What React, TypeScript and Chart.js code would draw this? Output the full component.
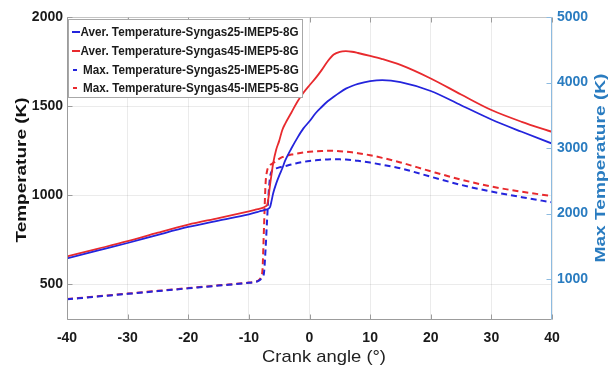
import React, { useEffect, useRef } from "react";
import { Chart, registerables } from "chart.js";

Chart.register(...registerables);

// ---------- data ----------
const angles = [
  -40, -35, -30, -25, -20, -15, -10, -9, -8.5, -8, -7.75, -7.5, -7.25, -7, -6.75, -6.5, -6.25, -6, -5.5, -5,
  -4.5, -4, -3, -2, -1, 0, 1, 2, 3, 4, 5, 6, 7, 8, 10, 12, 15, 20, 25, 30, 35, 40,
];

// Average temperature (left axis, K)
const averSyngas25 = [
  646, 689, 732, 778, 822, 858, 893, 902, 907, 912, 914, 917, 919, 921, 925, 934, 970, 1010, 1065, 1110,
  1150, 1195, 1262, 1322, 1375, 1415, 1460, 1495, 1527, 1553, 1577, 1598, 1613, 1625, 1640, 1646, 1635, 1585, 1505, 1425, 1356, 1290,
];
const averSyngas45 = [
  657, 699, 742, 790, 835, 872, 910, 918, 922, 926, 929, 933, 938, 945, 990, 1060, 1120, 1178, 1255, 1305,
  1365, 1402, 1463, 1525, 1575, 1617, 1657, 1702, 1752, 1790, 1805, 1808, 1805, 1798, 1782, 1764, 1731, 1655, 1565, 1478, 1412, 1356,
];

// Maximum temperature (right axis, K)
const maxSyngas25 = [
  690, 732, 774, 816, 858, 900, 943, 955, 968, 1000, 1030, 1100, 1450, 1900, 2300, 2560, 2640, 2672, 2690, 2705,
  2715, 2725, 2750, 2770, 2788, 2802, 2812, 2820, 2826, 2828, 2827, 2823, 2816, 2806, 2778, 2745, 2690, 2562, 2437, 2335, 2250, 2171,
];
const maxSyngas45 = [
  694, 736, 778, 820, 862, 904, 946, 960, 975, 1030, 1150, 1800, 2450, 2650, 2710, 2740, 2755, 2770, 2800, 2835,
  2860, 2875, 2900, 2918, 2932, 2942, 2950, 2955, 2958, 2957, 2952, 2944, 2934, 2922, 2890, 2850, 2780, 2645, 2518, 2412, 2333, 2267,
];

const seriesLabels = [
  "Aver. Temperature-Syngas25-IMEP5-8G",
  "Aver. Temperature-Syngas45-IMEP5-8G",
  "Max. Temperature-Syngas25-IMEP5-8G",
  "Max. Temperature-Syngas45-IMEP5-8G",
];

const xTicks = [-40, -30, -20, -10, 0, 10, 20, 30, 40];
const leftTicks = [500, 1000, 1500, 2000];
const rightTicks = [1000, 2000, 3000, 4000, 5000];

const xTitle = "Crank angle (°)";
const leftTitle = "Temperature (K)";
const rightTitle = "Max Temperature (K)";

// ---------- styles ----------
const BLUE = "#2424dc";
const RED = "#e82a2e";
const AXIS_BLUE = "#2a7cc0";
const FONT = "'Liberation Sans', Arial, sans-serif";

function fittedText(
  ctx: CanvasRenderingContext2D,
  text: string,
  x: number,
  y: number,
  rot: number,
  target: number,
  font: string,
  color: string,
  align: CanvasTextAlign
) {
  ctx.save();
  ctx.font = font;
  ctx.fillStyle = color;
  ctx.textAlign = align;
  ctx.textBaseline = "middle";
  const w = ctx.measureText(text).width;
  ctx.translate(x, y);
  ctx.rotate(rot);
  ctx.scale(target / w, 1);
  ctx.fillText(text, 0, 0);
  ctx.restore();
}

const overlayPlugin = {
  id: "overlay",
  afterDraw(chart: any) {
    const { ctx, chartArea: a, scales } = chart;
    ctx.save();
    const L = Math.round(a.left) + 0.5;
    const R = Math.round(a.right) - 0.5;
    const T = Math.round(a.top) + 0.5;
    const B = Math.round(a.bottom) - 0.5;
    ctx.lineWidth = 1;
    // frame
    ctx.strokeStyle = "#c4c4c4";
    ctx.beginPath();
    ctx.moveTo(L, T);
    ctx.lineTo(R, T);
    ctx.stroke();
    ctx.strokeStyle = "#9c9c9c";
    ctx.beginPath();
    ctx.moveTo(L, T);
    ctx.lineTo(L, B);
    ctx.lineTo(R, B);
    ctx.stroke();
    ctx.strokeStyle = "#8dbbe0";
    ctx.beginPath();
    ctx.moveTo(R, T);
    ctx.lineTo(R, B);
    ctx.stroke();
    // inward tick marks
    ctx.strokeStyle = "#9c9c9c";
    ctx.beginPath();
    for (const v of xTicks) {
      const px = Math.round(scales.x.getPixelForValue(v)) + 0.5;
      ctx.moveTo(px, B);
      ctx.lineTo(px, B - 5);
      ctx.moveTo(px, T);
      ctx.lineTo(px, T + 5);
    }
    for (const v of leftTicks) {
      const py = Math.round(scales.y.getPixelForValue(v)) + 0.5;
      ctx.moveTo(L, py);
      ctx.lineTo(L + 5, py);
    }
    ctx.stroke();
    ctx.strokeStyle = "#8dbbe0";
    ctx.beginPath();
    for (const v of rightTicks) {
      const py = Math.round(scales.y1.getPixelForValue(v)) + 0.5;
      ctx.moveTo(R, py);
      ctx.lineTo(R - 5, py);
    }
    ctx.stroke();

    // axis titles
    fittedText(ctx, xTitle, 324, 357, 0, 124, `17px ${FONT}`, "#222", "center");
    fittedText(ctx, leftTitle, 22, 170, -Math.PI / 2, 145, `bold 15px ${FONT}`, "#111", "center");
    fittedText(ctx, rightTitle, 601, 168, -Math.PI / 2, 189, `bold 15px ${FONT}`, AXIS_BLUE, "center");

    // legend
    const bx = 68.5, by = 19.5, bw = 234, bh = 78;
    ctx.fillStyle = "#ffffff";
    ctx.fillRect(bx, by, bw, bh);
    ctx.strokeStyle = "#a8a8a8";
    ctx.strokeRect(bx, by, bw, bh);
    const rows = [32, 51, 70, 88];
    const colors = [BLUE, RED, BLUE, RED];
    ctx.font = `bold 13px ${FONT}`;
    const w0 = ctx.measureText(seriesLabels[0]).width;
    const s = 218 / w0;
    seriesLabels.forEach((lab, i) => {
      const y = rows[i];
      ctx.strokeStyle = colors[i];
      ctx.lineWidth = 2;
      ctx.beginPath();
      if (i < 2) {
        ctx.moveTo(72, y);
        ctx.lineTo(80, y);
      } else {
        ctx.moveTo(73, y);
        ctx.lineTo(77, y);
      }
      ctx.stroke();
      ctx.save();
      ctx.font = `bold 13px ${FONT}`;
      ctx.fillStyle = "#1a1a1a";
      ctx.textAlign = "left";
      ctx.textBaseline = "middle";
      ctx.translate(i < 2 ? 80.5 : 83, y + 0.5);
      ctx.scale(s, 1);
      ctx.fillText(lab, 0, 0);
      ctx.restore();
    });
    ctx.restore();
  },
};

export default function App() {
  const ref = useRef<HTMLCanvasElement | null>(null);

  useEffect(() => {
    document.body.style.margin = "0";
    const canvas = ref.current;
    if (!canvas) return;
    const mk = (arr: number[]) => angles.map((a, i) => ({ x: a, y: arr[i] }));
    const plain = (v: any) => String(v);
    const chart = new Chart(canvas, {
      type: "line",
      data: {
        datasets: [
          { label: seriesLabels[0], data: mk(averSyngas25), borderColor: BLUE, borderWidth: 1.8, yAxisID: "y" },
          { label: seriesLabels[1], data: mk(averSyngas45), borderColor: RED, borderWidth: 1.8, yAxisID: "y" },
          { label: seriesLabels[2], data: mk(maxSyngas25), borderColor: BLUE, borderWidth: 2, borderDash: [6, 4], yAxisID: "y1" },
          { label: seriesLabels[3], data: mk(maxSyngas45), borderColor: RED, borderWidth: 2, borderDash: [6, 4], yAxisID: "y1" },
        ],
      },
      options: {
        responsive: false,
        animation: false,
        devicePixelRatio: 1,
        layout: { padding: { top: 17, left: 0, right: 0, bottom: 0 } },
        elements: {
          point: { radius: 0 },
          line: { cubicInterpolationMode: "monotone", fill: false },
        },
        plugins: {
          legend: { display: false },
          tooltip: { enabled: false },
        },
        scales: {
          x: {
            type: "linear",
            min: -40,
            max: 40,
            afterBuildTicks: (sc: any) => {
              sc.ticks = xTicks.map((v) => ({ value: v }));
            },
            afterFit: (sc: any) => {
              sc.height = 51;
            },
            ticks: {
              callback: plain,
              font: { family: FONT, weight: "bold", size: 14 },
              color: "#1a1a1a",
              padding: 10,
              maxRotation: 0,
            },
            grid: { color: "rgba(0,0,0,0.08)", drawTicks: false },
            border: { display: false },
          },
          y: {
            type: "linear",
            position: "left",
            min: 300,
            max: 2000,
            afterBuildTicks: (sc: any) => {
              sc.ticks = leftTicks.map((v) => ({ value: v }));
            },
            afterFit: (sc: any) => {
              sc.width = 67;
            },
            ticks: {
              callback: plain,
              font: { family: FONT, weight: "bold", size: 14 },
              color: "#1a1a1a",
              padding: 4,
            },
            grid: { color: "rgba(0,0,0,0.08)", drawTicks: false },
            border: { display: false },
          },
          y1: {
            type: "linear",
            position: "right",
            min: 375,
            max: 5000,
            afterBuildTicks: (sc: any) => {
              sc.ticks = rightTicks.map((v) => ({ value: v }));
            },
            afterFit: (sc: any) => {
              sc.width = 60;
            },
            ticks: {
              callback: plain,
              font: { family: FONT, weight: "bold", size: 14 },
              color: AXIS_BLUE,
              padding: 5,
            },
            grid: { drawOnChartArea: false, drawTicks: false },
            border: { display: false },
          },
        },
      },
      plugins: [overlayPlugin],
    } as any);
    return () => chart.destroy();
  }, []);

  return <canvas ref={ref} width={612} height={371} style={{ display: "block" }} />;
}
